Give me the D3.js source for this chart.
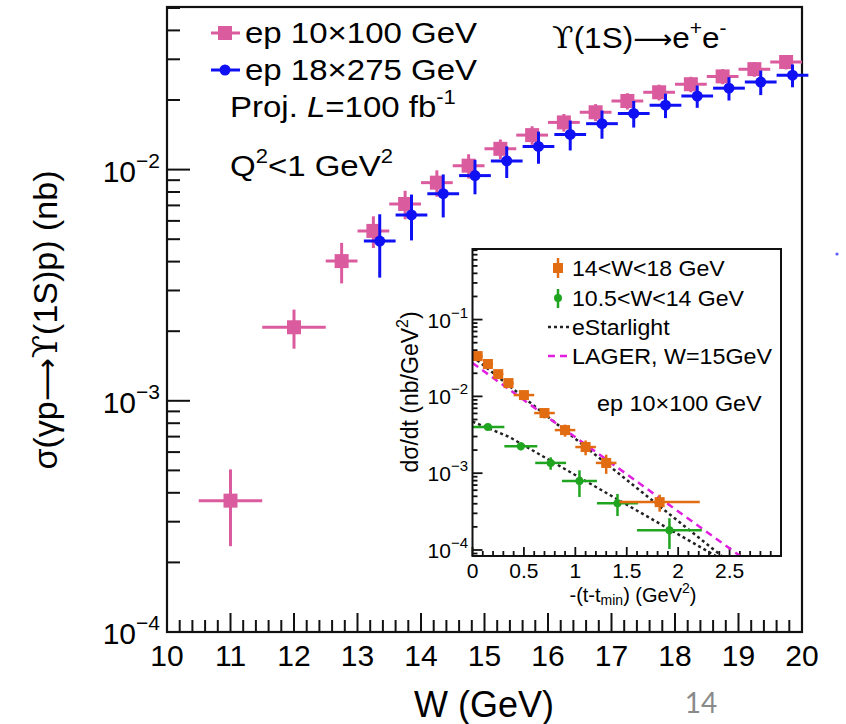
<!DOCTYPE html>
<html><head><meta charset="utf-8">
<script src="https://cdn.jsdelivr.net/npm/d3@7"></script>
<style>body{margin:0;background:#fff}svg{display:block}</style>
</head><body>
<svg id="c" width="846" height="724"></svg>
<script>
// ---------- main plot data : sigma(gamma p -> Upsilon(1S) p) [nb] vs W [GeV]
const W_10x100      = [11, 12, 12.75, 13.25, 13.75, 14.25, 14.75, 15.25, 15.75, 16.25, 16.75, 17.25, 17.75, 18.25, 18.75, 19.25, 19.75];
const Werr_10x100   = [0.5, 0.5, 0.25, 0.25, 0.25, 0.25, 0.25, 0.25, 0.25, 0.25, 0.25, 0.25, 0.25, 0.25, 0.25, 0.25, 0.25];
const sig_10x100    = [3.7e-4, 2.08e-3, 4.02e-3, 5.43e-3, 7.1e-3, 8.78e-3, 1.04e-2, 1.23e-2, 1.41e-2, 1.6e-2, 1.77e-2, 1.98e-2, 2.16e-2, 2.34e-2, 2.53e-2, 2.72e-2, 2.92e-2];
const sigErr_10x100 = [1.35e-4, 0.4e-3, 0.8e-3, 0.85e-3, 1.0e-3, 1.15e-3, 1.25e-3, 1.2e-3, 1.3e-3, 1.4e-3, 1.5e-3, 1.6e-3, 1.7e-3, 1.8e-3, 1.9e-3, 2.0e-3, 2.1e-3];

const W_18x275      = [13.35, 13.85, 14.35, 14.85, 15.35, 15.85, 16.35, 16.85, 17.35, 17.85, 18.35, 18.85, 19.35, 19.85];
const Werr_18x275   = [0.25, 0.25, 0.25, 0.25, 0.25, 0.25, 0.25, 0.25, 0.25, 0.25, 0.25, 0.25, 0.25, 0.25];
const sig_18x275    = [4.91e-3, 6.37e-3, 7.87e-3, 9.42e-3, 1.09e-2, 1.26e-2, 1.42e-2, 1.58e-2, 1.75e-2, 1.9e-2, 2.08e-2, 2.25e-2, 2.39e-2, 2.56e-2];
const sigErr_18x275 = [1.5e-3, 1.43e-3, 1.66e-3, 1.6e-3, 1.7e-3, 2.0e-3, 2.1e-3, 2.2e-3, 2.3e-3, 2.3e-3, 2.3e-3, 2.6e-3, 2.9e-3, 2.9e-3];

const xTicksMain  = [10, 11, 12, 13, 14, 15, 16, 17, 18, 19, 20];
const yExpMain    = [-4, -3, -2];

// ---------- inset data : dsigma/dt [nb/GeV^2] vs -(t - tmin) [GeV^2]
const t_14_18       = [0.05, 0.15, 0.25, 0.35, 0.5, 0.7, 0.9, 1.1, 1.3, 1.82];
const tErr_14_18    = [0.05, 0.05, 0.05, 0.05, 0.1, 0.1, 0.1, 0.1, 0.1, 0.39];
const dsdt_14_18    = [0.0335, 0.0264, 0.0195, 0.0149, 0.0104, 6.07e-3, 3.64e-3, 2.19e-3, 1.36e-3, 4.2e-4];
const dsdtErr_14_18 = [2.7e-3, 2.1e-3, 1.9e-3, 1.5e-3, 1.2e-3, 0.9e-3, 0.65e-3, 0.48e-3, 0.38e-3, 1.05e-4];

const t_105_14       = [0.15, 0.47, 0.76, 1.04, 1.41, 1.915];
const tErr_105_14    = [0.16, 0.16, 0.15, 0.17, 0.2, 0.315];
const dsdt_105_14    = [3.98e-3, 2.25e-3, 1.36e-3, 7.9e-4, 4.07e-4, 1.81e-4];
const dsdtErr_105_14 = [0.3e-3, 0.27e-3, 0.25e-3, 3.0e-4, 1.3e-4, 0.78e-4];

const t_eStarlight_14_18  = [0, 2.6];
const eStarlight_14_18    = [0.0331, 5.4e-5];
const t_eStarlight_105_14 = [0, 0.36, 2.6];
const eStarlight_105_14   = [4.7e-3, 2.95e-3, 5.5e-5];
const t_LAGER             = [0, 2.6];
const LAGER_W15           = [0.0272, 8.4e-5];

const xTicksInset = [0, 0.5, 1, 1.5, 2, 2.5];
const yExpInset   = [-4, -3, -2, -1];

// ---------- colours
const PINK = "#db5c9e", BLUE = "#1010f5", ORANGE = "#e26c12", GREEN = "#1fa51f", MAGENTA = "#e01fe0";
const FONT = "'Liberation Sans', Arial, Helvetica, sans-serif";
const UPS_FONT = "'DejaVu Serif', serif";

const svg = d3.select("#c").style("font-family", FONT);

function stext(parent, xpos, ypos, size, sx) {
  return parent.append("text").attr("transform", `translate(${xpos},${ypos}) scale(${sx},1)`)
    .attr("x", 0).attr("y", 0).attr("font-size", size).attr("fill", "#000");
}

// ================= MAIN PLOT =================
const x = d3.scaleLinear().domain([10, 20]).range([167, 802]);
const y = d3.scaleLog().domain([1e-4, 0.0505]).range([632, 7]);

const main = svg.append("g");
const xMinor = d3.range(10, 20.001, 0.2);
main.selectAll(".xt").data(xMinor).join("line")
  .attr("x1", d => x(d)).attr("x2", d => x(d))
  .attr("y1", 632).attr("y2", d => Math.abs(d - Math.round(d)) < 1e-6 ? 632 - 19 : 632 - 12)
  .attr("stroke", "#111").attr("stroke-width", 2);
main.selectAll(".xl").data(xTicksMain).join("text")
  .attr("x", d => x(d)).attr("y", 666).attr("text-anchor", "middle")
  .attr("font-size", 30).attr("fill", "#000").text(d => d);

const yMinorVals = [];
for (let e = -4; e <= -2; e++) for (let m = 1; m <= 9; m++) { const v = m * Math.pow(10, e); if (v <= 0.0505) yMinorVals.push({v, major: m === 1}); }
main.selectAll(".yt").data(yMinorVals).join("line")
  .attr("x1", 167).attr("x2", d => 167 + (d.major ? 23 : 13))
  .attr("y1", d => y(d.v)).attr("y2", d => y(d.v))
  .attr("stroke", "#111").attr("stroke-width", 2);
const yl = main.selectAll(".yl").data(yExpMain).join("text")
  .attr("x", 160).attr("y", d => y(Math.pow(10, d)) + 12).attr("text-anchor", "end").attr("fill", "#000");
yl.append("tspan").attr("font-size", 30).text("10");
yl.append("tspan").attr("font-size", 21).attr("dy", -14).text(d => "\u2212" + Math.abs(d));

main.append("rect").attr("x", 167).attr("y", 7).attr("width", 802 - 167).attr("height", 625)
  .attr("fill", "none").attr("stroke", "#111").attr("stroke-width", 2.2);

function drawMain(Ws, We, S, Se, color, shape) {
  const g = main.append("g");
  const d = Ws.map((w, i) => ({w, we: We[i], s: S[i], se: Se[i]}));
  g.selectAll(".h").data(d).join("line")
    .attr("x1", p => x(p.w - p.we)).attr("x2", p => x(p.w + p.we))
    .attr("y1", p => y(p.s)).attr("y2", p => y(p.s))
    .attr("stroke", color).attr("stroke-width", 3);
  g.selectAll(".v").data(d).join("line")
    .attr("x1", p => x(p.w)).attr("x2", p => x(p.w))
    .attr("y1", p => y(p.s + p.se)).attr("y2", p => y(Math.max(p.s - p.se, 1.01e-4)))
    .attr("stroke", color).attr("stroke-width", 3);
  if (shape === "square") {
    g.selectAll(".m").data(d).join("rect")
      .attr("x", p => x(p.w) - 7).attr("y", p => y(p.s) - 7).attr("width", 14).attr("height", 14).attr("fill", color);
  } else {
    g.selectAll(".m").data(d).join("circle")
      .attr("cx", p => x(p.w)).attr("cy", p => y(p.s)).attr("r", 5.5).attr("fill", color);
  }
}
drawMain(W_10x100, Werr_10x100, sig_10x100, sigErr_10x100, PINK, "square");
drawMain(W_18x275, Werr_18x275, sig_18x275, sigErr_18x275, BLUE, "circle");

// legend main
main.append("line").attr("x1", 211).attr("x2", 240).attr("y1", 33).attr("y2", 33).attr("stroke", PINK).attr("stroke-width", 3);
main.append("rect").attr("x", 218).attr("y", 26).attr("width", 14).attr("height", 14).attr("fill", PINK);
stext(main, 245, 43, 30, 1.1).text("ep 10\u00d7100 GeV");
main.append("line").attr("x1", 211).attr("x2", 240).attr("y1", 70).attr("y2", 70).attr("stroke", BLUE).attr("stroke-width", 3);
main.append("circle").attr("cx", 225).attr("cy", 70).attr("r", 5.5).attr("fill", BLUE);
stext(main, 245, 80, 30, 1.1).text("ep 18\u00d7275 GeV");

const tp = stext(main, 230, 117, 30, 1.1);
tp.append("tspan").text("Proj. ");
tp.append("tspan").attr("font-style", "italic").text("L");
tp.append("tspan").text("=100 fb");
tp.append("tspan").attr("font-size", 20).attr("dy", -13).text("-1");

const tq = stext(main, 230, 176, 30, 1.1);
tq.append("tspan").text("Q");
tq.append("tspan").attr("font-size", 20).attr("dy", -13).text("2");
tq.append("tspan").attr("dy", 13).text("<1 GeV");
tq.append("tspan").attr("font-size", 20).attr("dy", -13).text("2");

const tu = stext(main, 552, 48, 30, 1.05);
tu.append("tspan").style("font-family", UPS_FONT).text("\u03d2");
tu.append("tspan").text("(1S)");
tu.append("tspan").style("font-family", "'DejaVu Sans', sans-serif").attr("font-size", 26).text("\u27f6");
tu.append("tspan").text("e");
tu.append("tspan").attr("font-size", 20).attr("dy", -13).text("+");
tu.append("tspan").attr("dy", 13).text("e");
tu.append("tspan").attr("font-size", 20).attr("dy", -13).text("-");

// axis titles
main.append("text").attr("x", 484).attr("y", 717).attr("text-anchor", "middle").attr("font-size", 36).text("W (GeV)");
const yt = main.append("text").attr("transform", "translate(57,320) rotate(-90)").attr("text-anchor", "middle")
  .attr("font-size", 34);
yt.append("tspan").text("\u03c3(\u03b3p");
yt.append("tspan").style("font-family", "'DejaVu Sans', sans-serif").attr("font-size", 30).text("\u27f6");
yt.append("tspan").style("font-family", UPS_FONT).text("\u03d2");
yt.append("tspan").text("(1S)p) (nb)");

// small stray blue mark at right edge of the slide
svg.append("circle").attr("cx", 837).attr("cy", 254).attr("r", 1.6).attr("fill", "#5b5bff");

// page number
svg.append("text").attr("x", 701).attr("y", 713).attr("text-anchor", "middle").attr("font-size", 28)
  .attr("fill", "#8a8a8a").style("font-family", "Lato, 'Open Sans', sans-serif").text("14");

// ================= INSET =================
const X0 = 472.5, X1 = 781, Y0 = 249, Y1 = 556;
const xi = d3.scaleLinear().domain([0, 3]).range([X0, X1]);
const yi = d3.scaleLog().domain([8.35e-5, 0.83]).range([Y1, Y0]);
const ins = svg.append("g");
ins.append("rect").attr("x", X0).attr("y", Y0).attr("width", X1 - X0).attr("height", Y1 - Y0).attr("fill", "#fff");
svg.append("defs").append("clipPath").attr("id", "clipI").append("rect")
  .attr("x", X0).attr("y", Y0).attr("width", X1 - X0).attr("height", Y1 - Y0);

const tMinor = d3.range(0, 3.0001, 0.1);
ins.selectAll(".xt").data(tMinor).join("line")
  .attr("x1", d => xi(d)).attr("x2", d => xi(d))
  .attr("y1", Y1).attr("y2", (d, i) => i % 5 === 0 ? Y1 - 9 : Y1 - 5)
  .attr("stroke", "#111").attr("stroke-width", 1.8);
ins.selectAll(".xl").data(xTicksInset).join("text")
  .attr("x", d => xi(d)).attr("y", 578).attr("text-anchor", "middle").attr("font-size", 21).text(d => d);
const yiMinor = [];
for (let e = -5; e <= -1; e++) for (let m = 1; m <= 9; m++) { const v = m * Math.pow(10, e); if (v >= 8.35e-5 && v <= 0.83) yiMinor.push({v, major: m === 1}); }
ins.selectAll(".yt").data(yiMinor).join("line")
  .attr("x1", X0).attr("x2", d => X0 + (d.major ? 10 : 5))
  .attr("y1", d => yi(d.v)).attr("y2", d => yi(d.v))
  .attr("stroke", "#111").attr("stroke-width", 1.8);
const yil = ins.selectAll(".yl").data(yExpInset).join("text")
  .attr("x", 468).attr("y", d => yi(Math.pow(10, d)) + 8).attr("text-anchor", "end");
yil.append("tspan").attr("font-size", 21).text("10");
yil.append("tspan").attr("font-size", 15).attr("dy", -10).text(d => "\u2212" + Math.abs(d));

const plot = ins.append("g").attr("clip-path", "url(#clipI)");
const lineGen = d3.line().x(d => xi(d[0])).y(d => yi(d[1]));
plot.append("path").attr("d", lineGen(t_eStarlight_105_14.map((t, i) => [t, eStarlight_105_14[i]])))
  .attr("fill", "none").attr("stroke", "#222").attr("stroke-width", 2.5).attr("stroke-dasharray", "3,3");
plot.append("path").attr("d", lineGen(t_eStarlight_14_18.map((t, i) => [t, eStarlight_14_18[i]])))
  .attr("fill", "none").attr("stroke", "#222").attr("stroke-width", 2.5).attr("stroke-dasharray", "3,3");
plot.append("path").attr("d", lineGen(t_LAGER.map((t, i) => [t, LAGER_W15[i]])))
  .attr("fill", "none").attr("stroke", MAGENTA).attr("stroke-width", 2.5).attr("stroke-dasharray", "7,5");

function drawInset(T, Te, S, Se, color, shape) {
  const d = T.map((t, i) => ({t, te: Te[i], s: S[i], se: Se[i]}));
  const g = plot.append("g");
  g.selectAll(".h").data(d).join("line")
    .attr("x1", p => xi(Math.max(p.t - p.te, 0))).attr("x2", p => xi(p.t + p.te))
    .attr("y1", p => yi(p.s)).attr("y2", p => yi(p.s)).attr("stroke", color).attr("stroke-width", 2.5);
  g.selectAll(".v").data(d).join("line")
    .attr("x1", p => xi(p.t)).attr("x2", p => xi(p.t))
    .attr("y1", p => yi(p.s + p.se)).attr("y2", p => yi(p.s - p.se)).attr("stroke", color).attr("stroke-width", 2.5);
  if (shape === "square") g.selectAll(".m").data(d).join("rect")
    .attr("x", p => xi(p.t) - 5).attr("y", p => yi(p.s) - 5).attr("width", 10).attr("height", 10).attr("fill", color);
  else g.selectAll(".m").data(d).join("circle")
    .attr("cx", p => xi(p.t)).attr("cy", p => yi(p.s)).attr("r", 4).attr("fill", color);
}
drawInset(t_105_14, tErr_105_14, dsdt_105_14, dsdtErr_105_14, GREEN, "circle");
drawInset(t_14_18, tErr_14_18, dsdt_14_18, dsdtErr_14_18, ORANGE, "square");

ins.append("rect").attr("x", X0).attr("y", Y0).attr("width", X1 - X0).attr("height", Y1 - Y0)
  .attr("fill", "none").attr("stroke", "#111").attr("stroke-width", 2);

// inset legend
ins.append("line").attr("x1", 558).attr("x2", 558).attr("y1", 258).attr("y2", 278).attr("stroke", ORANGE).attr("stroke-width", 2.5);
ins.append("rect").attr("x", 553).attr("y", 263).attr("width", 10).attr("height", 10).attr("fill", ORANGE);
stext(ins, 572, 276, 22, 1.05).text("14<W<18 GeV");
ins.append("line").attr("x1", 558).attr("x2", 558).attr("y1", 289).attr("y2", 308).attr("stroke", GREEN).attr("stroke-width", 2.5);
ins.append("circle").attr("cx", 558).attr("cy", 298).attr("r", 4).attr("fill", GREEN);
stext(ins, 572, 306, 22, 1.05).text("10.5<W<14 GeV");
ins.append("line").attr("x1", 548).attr("x2", 571).attr("y1", 327).attr("y2", 327).attr("stroke", "#222").attr("stroke-width", 2.5).attr("stroke-dasharray", "3,3");
stext(ins, 572, 335, 22, 1.05).text("eStarlight");
ins.append("line").attr("x1", 548).attr("x2", 571).attr("y1", 356).attr("y2", 356).attr("stroke", MAGENTA).attr("stroke-width", 2.5).attr("stroke-dasharray", "7,5");
stext(ins, 572, 364, 22, 1.06).text("LAGER, W=15GeV");
stext(ins, 597, 411, 22, 1.065).text("ep 10\u00d7100 GeV");

// inset axis titles
const tx = ins.append("text").attr("x", 633).attr("y", 602).attr("text-anchor", "middle").attr("font-size", 20);
tx.append("tspan").text("-(t-t");
tx.append("tspan").attr("font-size", 14).attr("dy", 3).text("min");
tx.append("tspan").attr("dy", -3).text(") (GeV");
tx.append("tspan").attr("font-size", 14).attr("dy", -9).text("2");
tx.append("tspan").attr("dy", 9).text(")");
const ty = ins.append("text").attr("transform", "translate(418,392) rotate(-90)").attr("text-anchor", "middle").attr("font-size", 23);
ty.append("tspan").text("d\u03c3/dt (nb/GeV");
ty.append("tspan").attr("font-size", 16).attr("dy", -10).text("2");
ty.append("tspan").attr("dy", 10).text(")");
</script>
</body></html>
